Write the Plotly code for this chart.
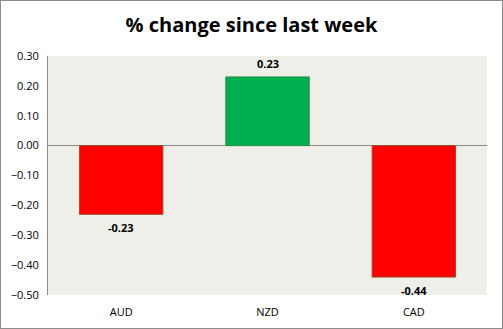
import plotly.graph_objects as go

categories = ["AUD", "NZD", "CAD"]
values = [-0.23, 0.23, -0.44]
colors = ["#FF0000", "#00B050", "#FF0000"]
line_colors = ["#9C4A2A", "#2E8A4A", "#9C4A2A"]
tick_vals = [0.3, 0.2, 0.1, 0.0, -0.1, -0.2, -0.3, -0.4, -0.5]

FONT = "Open Sans, Liberation Sans, sans-serif"

fig = go.Figure(go.Bar(
    x=categories, y=values,
    marker=dict(color=colors, line=dict(color=line_colors, width=1)),
    width=0.57,
))

for c, v in zip(categories, values):
    fig.add_annotation(x=c, y=v, text=f"<b>{v:.2f}</b>", showarrow=False,
                       yanchor="middle", yshift=13 if v >= 0 else -13.5,
                       font=dict(family=FONT, size=11, color="black"))

fig.update_layout(
    width=503, height=329,
    margin=dict(l=48, r=16, t=56, b=34),
    paper_bgcolor="white",
    plot_bgcolor="#EEEFE8",
    showlegend=False,
    title=dict(text="<b>% change since last week</b>", x=0.5, xanchor="center",
               y=1 - 25/329, yanchor="middle",
               font=dict(family=FONT, size=20, color="black")),
    font=dict(family=FONT, size=11, color="black"),
)
fig.update_yaxes(range=[-0.5, 0.3], tickvals=tick_vals, tickformat=".2f",
                 showgrid=False, zeroline=True, zerolinecolor="#8C8C8C", zerolinewidth=1,
                 showline=True, linecolor="#8C8C8C", linewidth=1, ticks="", ticklabelstandoff=6,
                 automargin=False)
fig.update_xaxes(showgrid=False, showline=False, ticks="", tickfont=dict(size=11),
                 ticklabelstandoff=9, automargin=False)
fig.add_shape(type="rect", xref="paper", yref="paper", x0=-48/439, x1=1+16/439,
              y0=-34/239, y1=1+56/239, line=dict(color="#8C8C8C", width=2), layer="above")

fig.write_html("out.html")
